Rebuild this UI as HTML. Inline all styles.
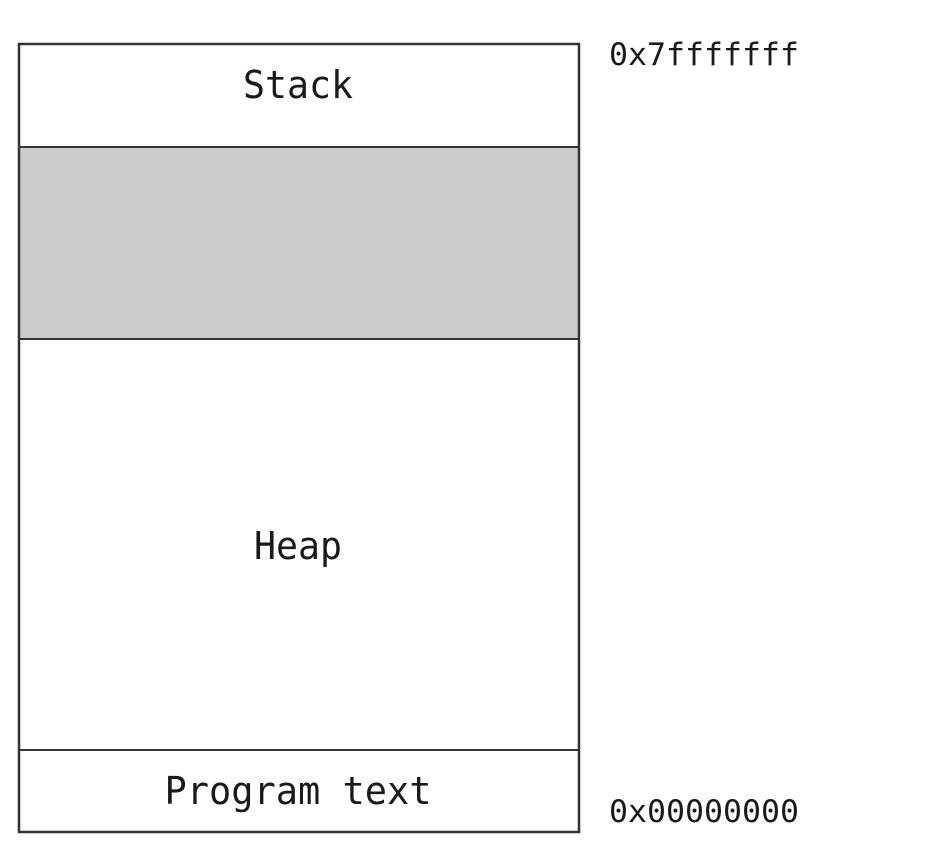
<!DOCTYPE html>
<html><head><style>
body{margin:0;width:930px;height:844px;background:#fff;overflow:hidden}
svg text{font-family:"DejaVu Sans Mono","Liberation Mono",monospace;fill:#1a1a1a}
</style></head><body>
<svg width="930" height="844" xmlns="http://www.w3.org/2000/svg">
<rect x="20" y="147" width="558" height="192" fill="#cccccc"/>
<rect x="19" y="44" width="560" height="788" fill="none" stroke="#333" stroke-width="2.5"/>
<line x1="19" y1="147" x2="579" y2="147" stroke="#333" stroke-width="2"/>
<line x1="19" y1="339" x2="579" y2="339" stroke="#333" stroke-width="2"/>
<line x1="19" y1="750" x2="579" y2="750" stroke="#333" stroke-width="2"/>
<text x="298" y="98" font-size="38" text-anchor="middle" textLength="110" lengthAdjust="spacingAndGlyphs">Stack</text>
<text x="298" y="559" font-size="38" text-anchor="middle" textLength="88" lengthAdjust="spacingAndGlyphs">Heap</text>
<text x="298" y="804" font-size="38" text-anchor="middle" textLength="267" lengthAdjust="spacingAndGlyphs">Program text</text>
<text x="609" y="65" font-size="31" textLength="190" lengthAdjust="spacingAndGlyphs">0x7fffffff</text>
<text x="609" y="822" font-size="31" textLength="190" lengthAdjust="spacingAndGlyphs">0x00000000</text>
</svg>
</body></html>
